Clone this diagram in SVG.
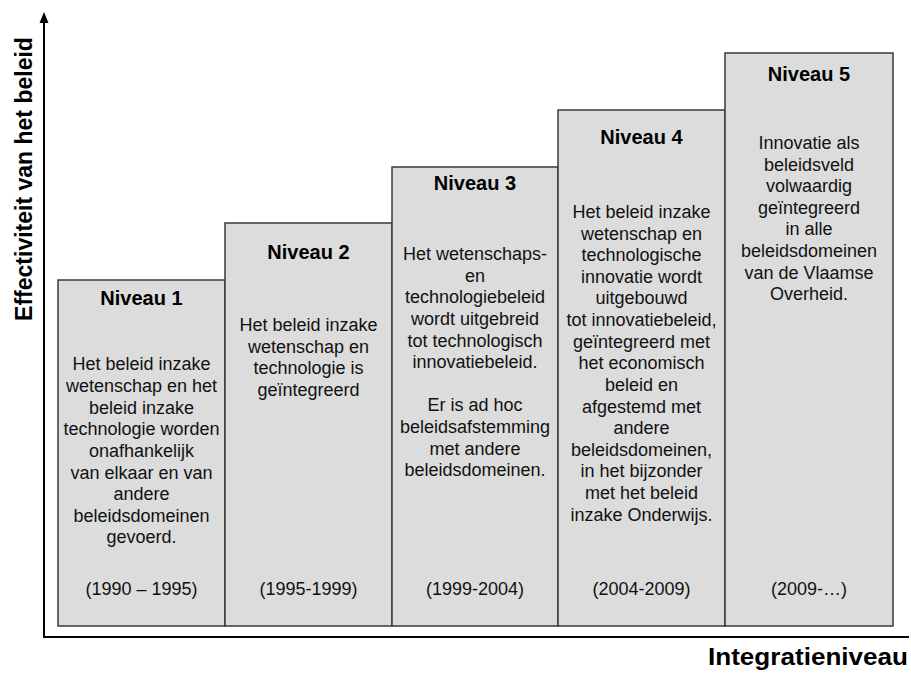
<svg xmlns="http://www.w3.org/2000/svg" width="911" height="673" viewBox="0 0 911 673">
<style>
.box{fill:#dcdcdc;stroke:#3a3a3a;stroke-width:1.5}
.h{font-family:"Liberation Sans",Arial,sans-serif;font-weight:bold;font-size:20px;fill:#000;text-anchor:middle}
.t{font-family:"Liberation Sans",Arial,sans-serif;font-size:18px;fill:#111;text-anchor:middle}
.ax{font-family:"Liberation Sans",Arial,sans-serif;font-weight:bold;font-size:23px;fill:#000}
.axis{stroke:#000;stroke-width:2;fill:none}
</style>
<rect width="911" height="673" fill="#fff"/>
<g id="connectors">
<line class="axis" x1="44" y1="637" x2="44" y2="20"/>
<polygon points="44,12 39.5,23 48.5,23" fill="#000"/>
<line class="axis" x1="43" y1="637" x2="909" y2="637"/>
</g>
<g id="ylabel"><text class="ax" transform="translate(32 179) rotate(-90)" text-anchor="middle">Effectiviteit van het beleid</text></g>
<g id="xlabel"><text class="ax" x="908" y="665" text-anchor="end" font-size="22" textLength="200" lengthAdjust="spacingAndGlyphs">Integratieniveau</text></g>
<g id="niveau1">
<rect class="box" x="58" y="280" width="167" height="346"/>
<text class="h" x="141.5" y="305">Niveau 1</text>
<text class="t" x="141.5" y="370">Het beleid inzake</text>
<text class="t" x="141.5" y="392">wetenschap en het</text>
<text class="t" x="141.5" y="414">beleid inzake</text>
<text class="t" x="141.5" y="435">technologie worden</text>
<text class="t" x="141.5" y="457">onafhankelijk</text>
<text class="t" x="141.5" y="479">van elkaar en van</text>
<text class="t" x="141.5" y="500">andere</text>
<text class="t" x="141.5" y="522">beleidsdomeinen</text>
<text class="t" x="141.5" y="543">gevoerd.</text>
<text class="t" x="141.5" y="595">(1990 – 1995)</text>
</g>
<g id="niveau2">
<rect class="box" x="225" y="223" width="167" height="403"/>
<text class="h" x="308.5" y="259">Niveau 2</text>
<text class="t" x="308.5" y="331">Het beleid inzake</text>
<text class="t" x="308.5" y="353">wetenschap en</text>
<text class="t" x="308.5" y="374">technologie is</text>
<text class="t" x="308.5" y="396">geïntegreerd</text>
<text class="t" x="308.5" y="595">(1995-1999)</text>
</g>
<g id="niveau3">
<rect class="box" x="392" y="167" width="166" height="459"/>
<text class="h" x="475" y="190">Niveau 3</text>
<text class="t" x="475" y="260">Het wetenschaps-</text>
<text class="t" x="475" y="282">en</text>
<text class="t" x="475" y="303">technologiebeleid</text>
<text class="t" x="475" y="325">wordt uitgebreid</text>
<text class="t" x="475" y="347">tot technologisch</text>
<text class="t" x="475" y="368">innovatiebeleid.</text>
<text class="t" x="475" y="411">Er is ad hoc</text>
<text class="t" x="475" y="433">beleidsafstemming</text>
<text class="t" x="475" y="455">met andere</text>
<text class="t" x="475" y="476">beleidsdomeinen.</text>
<text class="t" x="475" y="595">(1999-2004)</text>
</g>
<g id="niveau4">
<rect class="box" x="558" y="110" width="167" height="516"/>
<text class="h" x="641.5" y="144">Niveau 4</text>
<text class="t" x="641.5" y="218">Het beleid inzake</text>
<text class="t" x="641.5" y="240">wetenschap en</text>
<text class="t" x="641.5" y="261">technologische</text>
<text class="t" x="641.5" y="283">innovatie wordt</text>
<text class="t" x="641.5" y="304">uitgebouwd</text>
<text class="t" x="641.5" y="326">tot innovatiebeleid,</text>
<text class="t" x="641.5" y="348">geïntegreerd met</text>
<text class="t" x="641.5" y="369">het economisch</text>
<text class="t" x="641.5" y="391">beleid en</text>
<text class="t" x="641.5" y="413">afgestemd met</text>
<text class="t" x="641.5" y="434">andere</text>
<text class="t" x="641.5" y="456">beleidsdomeinen,</text>
<text class="t" x="641.5" y="477">in het bijzonder</text>
<text class="t" x="641.5" y="499">met het beleid</text>
<text class="t" x="641.5" y="521">inzake Onderwijs.</text>
<text class="t" x="641.5" y="595">(2004-2009)</text>
</g>
<g id="niveau5">
<rect class="box" x="725" y="53" width="168" height="573"/>
<text class="h" x="809" y="81">Niveau 5</text>
<text class="t" x="809" y="149">Innovatie als</text>
<text class="t" x="809" y="171">beleidsveld</text>
<text class="t" x="809" y="192">volwaardig</text>
<text class="t" x="809" y="214">geïntegreerd</text>
<text class="t" x="809" y="235">in alle</text>
<text class="t" x="809" y="257">beleidsdomeinen</text>
<text class="t" x="809" y="279">van de Vlaamse</text>
<text class="t" x="809" y="300">Overheid.</text>
<text class="t" x="809" y="595">(2009-…)</text>
</g>
</svg>
